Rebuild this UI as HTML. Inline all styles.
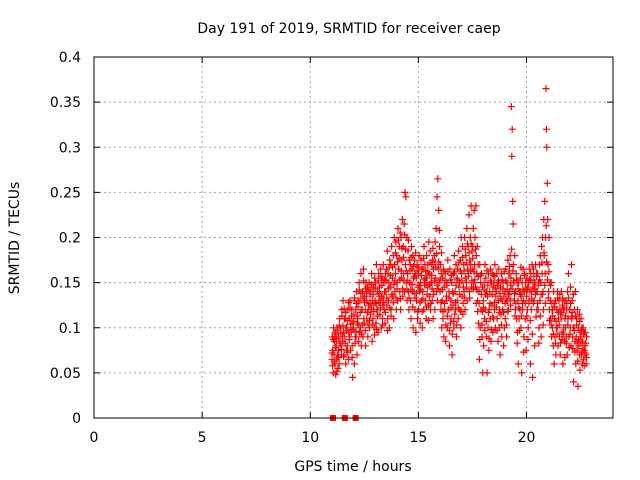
<!DOCTYPE html>
<html><head><meta charset="utf-8"><style>
html,body{margin:0;padding:0;background:#fff}
svg{display:block;font-family:"DejaVu Sans","Liberation Sans",sans-serif}
</style></head><body>
<svg id="chart" width="640" height="480" xmlns="http://www.w3.org/2000/svg">
<rect width="640" height="480" fill="#fff"/>
<text x="349" y="33" font-size="14" text-anchor="middle">Day 191 of 2019, SRMTID for receiver caep</text>
<text x="19" y="238" font-size="14" text-anchor="middle" transform="rotate(-90 19 238)">SRMTID / TECUs</text>
<text x="353" y="471" font-size="14" text-anchor="middle">GPS time / hours</text>
<g id="grid"></g>
<g id="axes"></g>
<g id="points"></g>
<rect x="94" y="57" width="519" height="361" fill="none" stroke="#000" stroke-width="1"/>
</svg>
<script>
const xTicks=[0,5,10,15,20];
const yTicks=[0,0.05,0.1,0.15,0.2,0.25,0.3,0.35,0.4];
const yTickLabels=["0","0.05","0.1","0.15","0.2","0.25","0.3","0.35","0.4"];
const bucketStart=[11.0,11.1,11.2,11.3,11.4,11.5,11.6,11.7,11.8,11.9,12.0,12.1,12.2,12.3,12.4,12.5,12.6,12.7,12.8,12.9,13.0,13.1,13.2,13.3,13.4,13.5,13.6,13.7,13.8,13.9,14.0,14.1,14.2,14.3,14.4,14.5,14.6,14.7,14.8,14.9,15.0,15.1,15.2,15.3,15.4,15.5,15.6,15.7,15.8,15.9,16.0,16.1,16.2,16.3,16.4,16.5,16.6,16.7,16.8,16.9,17.0,17.1,17.2,17.3,17.4,17.5,17.6,17.7,17.8,17.9,18.0,18.1,18.2,18.3,18.4,18.5,18.6,18.7,18.8,18.9,19.0,19.1,19.2,19.3,19.4,19.5,19.6,19.7,19.8,19.9,20.0,20.1,20.2,20.3,20.4,20.5,20.6,20.7,20.8,20.9,21.0,21.1,21.2,21.3,21.4,21.5,21.6,21.7,21.8,21.9,22.0,22.1,22.2,22.3,22.4,22.5,22.6,22.7];
const bucketValues=[
[.065,.09,.075,.05,.1],[.07,.085,.06,.095,.048],[.08,.065,.1,.07,.055],[.09,.075,.06,.11,.085],[.1,.08,.07,.12,.09],
[.085,.13,.095,.07,.11],[.09,.11,.06,.1,.075],[.1,.08,.12,.065,.095],[.11,.09,.13,.075,.1],[.095,.12,.08,.045,.105],
[.1,.115,.06,.13,.09],[.12,.09,.14,.07,.105],[.11,.13,.085,.15,.095],[.13,.1,.16,.08,.12],[.12,.14,.09,.165,.11],
[.105,.135,.12,.08,.15],[.13,.11,.145,.09,.12],[.125,.15,.1,.135,.115],[.14,.12,.16,.085,.13],[.11,.145,.125,.1,.155],
[.13,.15,.105,.17,.12],[.12,.14,.095,.16,.135],[.145,.115,.13,.165,.1],[.135,.155,.11,.125,.17],[.15,.12,.14,.105,.16],
[.14,.165,.125,.185,.11],[.16,.13,.15,.1,.175],[.145,.17,.12,.19,.135],[.155,.135,.18,.11,.2],[.17,.14,.16,.195,.12],
[.18,.15,.13,.21,.165],[.165,.19,.14,.205,.12],[.2,.155,.175,.22,.135],[.19,.16,.215,.14,.25],[.17,.245,.15,.2,.13],
[.16,.185,.14,.12,.175],[.15,.17,.13,.11,.19],[.165,.14,.18,.1,.155],[.14,.175,.12,.16,.095],[.155,.13,.17,.11,.145],
[.16,.12,.18,.14,.105],[.15,.175,.13,.165,.1],[.14,.165,.12,.19,.15],[.17,.13,.155,.11,.18],[.155,.145,.17,.125,.195],
[.16,.135,.185,.12,.15],[.15,.17,.13,.175,.11],[.165,.14,.18,.12,.195],[.155,.21,.14,.245,.13],[.265,.165,.23,.15,.19],
[.14,.17,.12,.16,.1],[.13,.155,.11,.165,.09],[.145,.12,.16,.085,.13],[.135,.15,.1,.175,.12],[.12,.14,.08,.165,.105],
[.13,.11,.15,.07,.14],[.125,.16,.1,.18,.115],[.14,.12,.17,.09,.155],[.13,.165,.11,.185,.145],[.15,.12,.175,.1,.2],
[.16,.135,.19,.115,.145],[.17,.14,.2,.12,.155],[.18,.15,.21,.13,.165],[.19,.16,.225,.14,.175],[.2,.17,.235,.145,.185],
[.19,.165,.21,.15,.23],[.17,.2,.145,.235,.18],[.16,.19,.13,.17,.105],[.14,.065,.17,.1,.15],[.12,.16,.09,.145,.05],
[.13,.08,.15,.11,.17],[.12,.155,.09,.14,.05],[.135,.1,.16,.075,.12],[.14,.11,.165,.085,.15],[.125,.16,.095,.145,.11],
[.15,.12,.17,.1,.135],[.14,.16,.11,.15,.085],[.13,.165,.1,.12,.07],[.145,.115,.16,.09,.13],[.12,.15,.08,.135,.1],
[.14,.11,.165,.13,.09],[.15,.13,.175,.12,.16],[.16,.14,.18,.125,.155],[.345,.29,.32,.24,.215],[.17,.15,.13,.18,.12],
[.14,.16,.11,.15,.095],[.13,.06,.15,.11,.14],[.12,.155,.1,.135,.05],[.15,.12,.165,.13,.09],[.14,.16,.11,.15,.075],
[.135,.155,.12,.145,.1],[.15,.13,.165,.14,.06],[.16,.12,.14,.17,.045],[.145,.165,.13,.15,.08],[.15,.17,.14,.16,.12],
[.14,.16,.12,.15,.1],[.17,.13,.18,.15,.09],[.19,.16,.2,.14,.12],[.22,.18,.24,.16,.2],[.365,.32,.3,.26,.22],
[.17,.14,.2,.12,.15],[.13,.11,.15,.09,.12],[.1,.12,.08,.14,.06],[.11,.09,.13,.07,.1],[.12,.1,.14,.08,.11],
[.13,.09,.12,.07,.115],[.11,.14,.095,.125,.06],[.12,.1,.13,.085,.11],[.1,.13,.09,.12,.07],[.14,.11,.16,.09,.12],
[.12,.1,.145,.08,.17],[.11,.13,.09,.1,.04],[.1,.12,.085,.14,.06],[.09,.11,.075,.12,.035],[.1,.08,.115,.07,.095],
[.09,.11,.07,.1,.06],[.085,.1,.065,.095,.075],[.08,.095,.07,.06,.09]];
const bucketValues2=[
[.072,.058,.087],[.063,.093,.078],[.088,.052,.097],[.067,.102,.083],[.094,.076,.113],
[.102,.068,.121],[.083,.117,.097],[.108,.073,.128],[.087,.122,.104],[.113,.067,.098],
[.107,.133,.083],[.096,.127,.113],[.123,.103,.142],[.117,.138,.093],[.103,.133,.152],
[.128,.097,.143],[.138,.117,.103],[.142,.108,.127],[.122,.148,.103],[.137,.118,.092],
[.143,.127,.098],[.113,.152,.128],[.138,.122,.157],[.147,.103,.133],[.128,.153,.117],
[.152,.133,.097],[.143,.167,.122],[.158,.113,.137],[.167,.128,.148],[.152,.183,.133],
[.143,.173,.197],[.177,.153,.132],[.163,.188,.143],[.178,.152,.203],[.187,.163,.142],
[.152,.197,.133],[.163,.142,.178],[.148,.123,.168],[.157,.133,.183],[.138,.163,.118],
[.167,.147,.128],[.142,.158,.118],[.132,.177,.153],[.147,.163,.123],[.137,.162,.108],
[.148,.172,.127],[.158,.143,.188],[.137,.152,.173],[.167,.182,.147],[.143,.173,.208],
[.153,.128,.183],[.142,.118,.163],[.127,.152,.103],[.147,.113,.162],[.133,.097,.153],
[.122,.158,.093],[.138,.107,.162],[.128,.147,.103],[.153,.122,.172],[.137,.163,.118],
[.152,.178,.127],[.163,.133,.187],[.172,.143,.193],[.157,.183,.133],[.163,.193,.152],
[.177,.143,.162],[.153,.187,.127],[.142,.118,.157],[.127,.087,.158],[.137,.103,.118],
[.122,.142,.097],[.137,.107,.163],[.147,.117,.088],[.127,.152,.098],[.137,.112,.158],
[.128,.157,.143],[.123,.097,.147],[.152,.117,.138],[.132,.103,.153],[.143,.117,.162],
[.127,.152,.103],[.142,.118,.137],[.168,.132,.147],[.187,.143,.163],[.152,.138,.113],
[.127,.153,.083],[.143,.122,.097],[.137,.167,.113],[.127,.142,.073],[.158,.127,.143],
[.113,.142,.087],[.127,.153,.108],[.152,.132,.093],[.127,.157,.143],[.137,.112,.157],
[.127,.147,.083],[.153,.113,.137],[.172,.137,.103],[.183,.147,.127],[.213,.173,.153],
[.133,.162,.108],[.147,.103,.127],[.113,.093,.127],[.123,.083,.107],[.093,.133,.117],
[.103,.137,.083],[.117,.087,.132],[.093,.122,.067],[.113,.083,.127],[.103,.133,.078],
[.093,.127,.112],[.117,.077,.137],[.097,.073,.113],[.103,.083,.063],[.087,.107,.053],
[.083,.097,.073],[.077,.093,.058],[.072,.083,.067]];
const zeroHours=[11.05,11.6,12.1];

const NS="http://www.w3.org/2000/svg";
const X0=94,X1=613,Y0=418,Y1=57;
function xs(h){return X0+(h/24)*(X1-X0);}
function ys(v){return Y0-(v/0.4)*(Y0-Y1);}
function mk(tag,attrs,parent){const e=document.createElementNS(NS,tag);for(const k in attrs)e.setAttribute(k,attrs[k]);parent.appendChild(e);return e;}
const grid=document.getElementById('grid'),axes=document.getElementById('axes'),pts=document.getElementById('points');

xTicks.forEach(t=>{
  const x=xs(t);
  if(t>0){const g=mk('line',{x1:x,y1:Y0,x2:x,y2:Y1,stroke:'#a0a0a0','stroke-dasharray':'2,3'},grid);
  
  }
  const a=mk('line',{x1:x,y1:Y0,x2:x,y2:Y0-6,stroke:'#000'},axes);
  
  
  const b=mk('line',{x1:x,y1:Y1,x2:x,y2:Y1+6,stroke:'#000'},axes);
  
  
  const l=mk('text',{x:x,y:Y0+24,'font-size':14,'text-anchor':'middle'},axes);
  l.textContent=String(t);
  
  
});
yTicks.forEach((t,i)=>{
  const y=ys(t);
  if(t>0&&t<0.4){const g=mk('line',{x1:X0,y1:y,x2:X1,y2:y,stroke:'#a0a0a0','stroke-dasharray':'2,3'},grid);
  
  }
  const a=mk('line',{x1:X0,y1:y,x2:X0+6,y2:y,stroke:'#000'},axes);
  
  
  const b=mk('line',{x1:X1,y1:y,x2:X1-6,y2:y,stroke:'#000'},axes);
  
  
  const l=mk('text',{x:X0-13,y:y+5,'font-size':14,'text-anchor':'end'},axes);
  l.textContent=yTickLabels[i];
  
  
});
function cross(x,y){return `M${(x-3.5).toFixed(1)} ${y.toFixed(1)}h7M${x.toFixed(1)} ${(y-3.5).toFixed(1)}v7`;}
let d='';
bucketStart.forEach((t,i)=>{
  bucketValues[i].forEach((v,k)=>{d+=cross(xs(t+k*0.02),ys(v));});
  bucketValues2[i].forEach((v,k)=>{d+=cross(xs(t+0.01+k*0.03),ys(v));});
});
const p=mk('path',{d:d,stroke:'#ff0000','stroke-width':1.2,fill:'none'},pts);


zeroHours.forEach(h=>{
  const r=mk('rect',{x:xs(h)-3,y:Y0-3,width:6,height:6,fill:'#ff0000'},pts);
  
  
});
</script>
</body></html>
